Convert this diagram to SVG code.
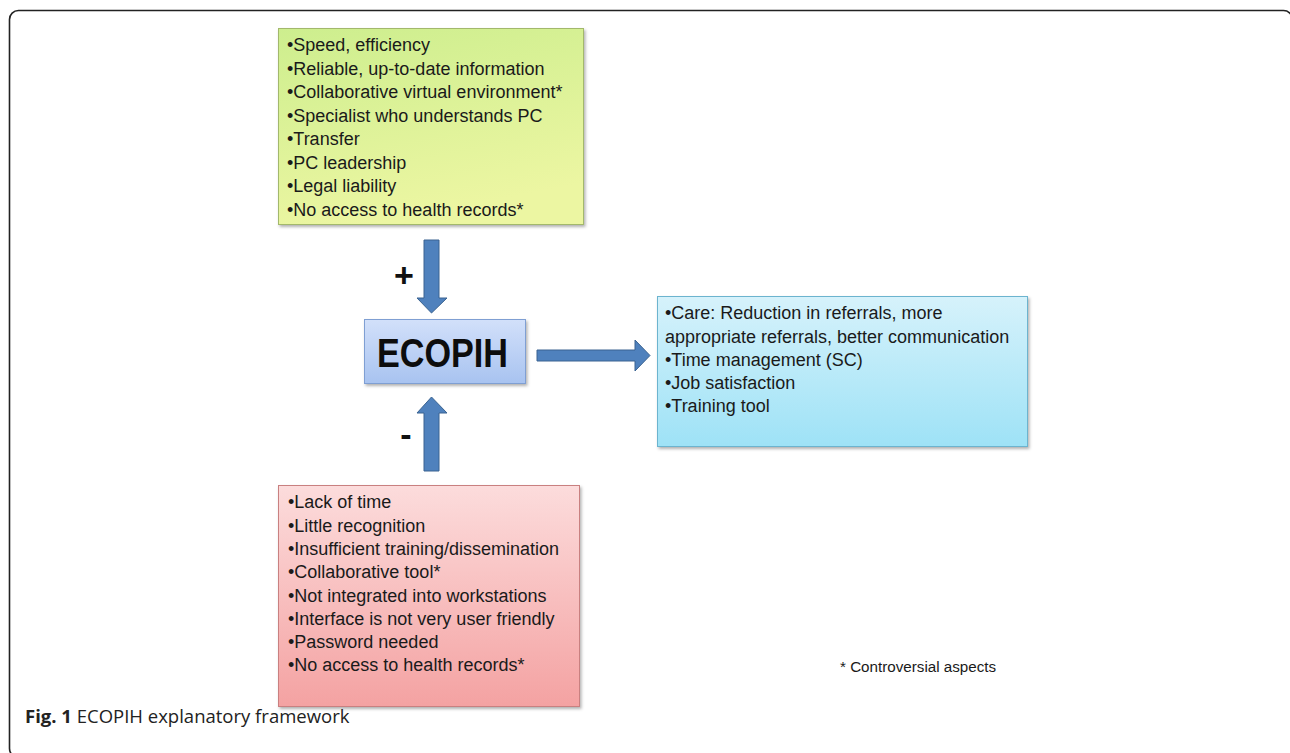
<svg xmlns="http://www.w3.org/2000/svg" width="1290" height="753" viewBox="0 0 1290 753">
<defs>
<linearGradient id="gGreen" x1="0" y1="0" x2="0.3" y2="1"><stop offset="0" stop-color="#cdee8e"/><stop offset="1" stop-color="#ecf6a2"/></linearGradient>
<linearGradient id="gEco" x1="0" y1="0" x2="0" y2="1"><stop offset="0" stop-color="#d2e0fa"/><stop offset="1" stop-color="#a8c3f0"/></linearGradient>
<linearGradient id="gBlue" x1="0" y1="0" x2="0" y2="1"><stop offset="0" stop-color="#d6f2fb"/><stop offset="1" stop-color="#9ee2f6"/></linearGradient>
<linearGradient id="gRed" x1="0" y1="0" x2="0" y2="1"><stop offset="0" stop-color="#fcdcdc"/><stop offset="1" stop-color="#f4a2a2"/></linearGradient>
<filter id="sh" x="-5%" y="-5%" width="115%" height="115%"><feDropShadow dx="1.5" dy="2" stdDeviation="1.5" flood-color="#000" flood-opacity="0.3"/></filter>
</defs>
<style>
.t{font-family:"Liberation Sans",Arial,sans-serif;font-size:18px;fill:#1a1a1a}
.arrow{fill:#4f81bd;stroke:#3a6391;stroke-width:1}
.cap{font-family:"Open Sans","Liberation Sans",sans-serif;font-size:18.5px;fill:#222}
</style>
<rect x="9.5" y="10.5" width="1283" height="747" rx="9" fill="#fff" stroke="#222" stroke-width="1.6"/>

<g id="connectors">
<path class="arrow" d="M424,240 H439 V298 H447 L431.5,313 L417,298 H424 Z"/>
<path class="arrow" d="M424,471 H439 V413 H447 L431.5,397 L417,413 H424 Z"/>
<path class="arrow" d="M537,350 H635 V340 L650,355.5 L635,371 V361 H537 Z"/>
<text x="404" y="287" text-anchor="middle" style="font-family:'Liberation Sans',Arial,sans-serif;font-weight:bold;font-size:34px;fill:#111">+</text>
<text x="406" y="446" text-anchor="middle" style="font-family:'Liberation Sans',Arial,sans-serif;font-weight:bold;font-size:34px;fill:#111">-</text>
</g>

<g id="positive">
<rect x="278.5" y="28.5" width="305" height="196" fill="url(#gGreen)" stroke="#a3b86c" stroke-width="1" filter="url(#sh)"/>
<text class="t" x="287" y="51">•Speed, efficiency</text>
<text class="t" x="287" y="74.5">•Reliable, up-to-date information</text>
<text class="t" x="287" y="98">•Collaborative virtual environment*</text>
<text class="t" x="287" y="121.5">•Specialist who understands PC</text>
<text class="t" x="287" y="145">•Transfer</text>
<text class="t" x="287" y="168.5">•PC leadership</text>
<text class="t" x="287" y="192">•Legal liability</text>
<text class="t" x="287" y="215.5">•No access to health records*</text>
</g>

<g id="ecopih">
<rect x="364.5" y="319.5" width="161" height="64" fill="url(#gEco)" stroke="#7f9fd3" stroke-width="1" filter="url(#sh)"/>
<text x="377" y="367" textLength="131" lengthAdjust="spacingAndGlyphs" style="font-family:'Liberation Sans',Arial,sans-serif;font-weight:bold;font-size:40px;fill:#0d0d0d">ECOPIH</text>
</g>

<g id="outcomes">
<rect x="657.5" y="296.5" width="370" height="150" fill="url(#gBlue)" stroke="#6cb4cf" stroke-width="1" filter="url(#sh)"/>
<text class="t" x="665" y="319">•Care: Reduction in referrals, more</text>
<text class="t" x="665" y="343">appropriate referrals, better communication</text>
<text class="t" x="665" y="366">•Time management (SC)</text>
<text class="t" x="665" y="389">•Job satisfaction</text>
<text class="t" x="665" y="412">•Training tool</text>
</g>

<g id="negative">
<rect x="278.5" y="485.5" width="301" height="221" fill="url(#gRed)" stroke="#c98080" stroke-width="1" filter="url(#sh)"/>
<text class="t" x="288" y="508">•Lack of time</text>
<text class="t" x="288" y="531.5">•Little recognition</text>
<text class="t" x="288" y="555">•Insufficient training/dissemination</text>
<text class="t" x="288" y="578">•Collaborative tool*</text>
<text class="t" x="288" y="601.5">•Not integrated into workstations</text>
<text class="t" x="288" y="625">•Interface is not very user friendly</text>
<text class="t" x="288" y="648">•Password needed</text>
<text class="t" x="288" y="671">•No access to health records*</text>
</g>

<g id="note">
<text x="840" y="672" style="font-family:'Liberation Sans',Arial,sans-serif;font-size:15.2px;fill:#1a1a1a">* Controversial aspects</text>
</g>

<g id="caption">
<text class="cap" x="25" y="723"><tspan font-weight="bold">Fig. 1</tspan> ECOPIH explanatory framework</text>
</g>
</svg>
